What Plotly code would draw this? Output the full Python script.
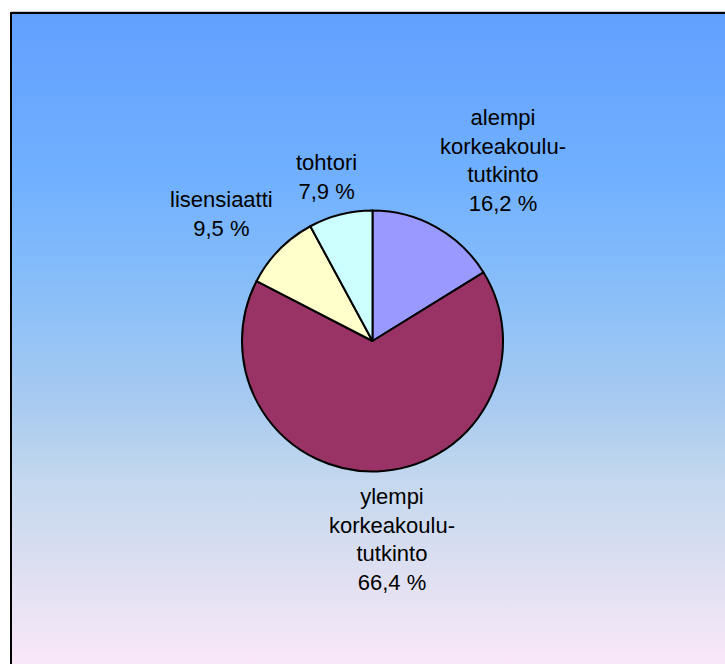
import plotly.graph_objects as go

labels = ["alempi<br>korkeakoulu-<br>tutkinto", "ylempi<br>korkeakoulu-<br>tutkinto", "lisensiaatti", "tohtori"]
values = [16.2, 66.4, 9.5, 7.9]
value_text = ["16,2 %", "66,4 %", "9,5 %", "7,9 %"]
colors = ["#9999FF", "#993366", "#FFFFCC", "#CCFFFF"]

W, H = 725, 664
# label anchor positions (page pixel space)
label_pos = [(503, 160), (392, 539), (221, 214), (326, 177)]
X0, Y0 = 11, 13

fig = go.Figure()

# gradient background panel
fig.add_trace(go.Scatter(
    x=[X0, W + 5, W + 5, X0, X0], y=[Y0, Y0, H + 5, H + 5, Y0],
    mode="lines", line=dict(width=0), fill="toself",
    fillgradient=dict(type="vertical", start=Y0, stop=H,
                      colorscale=[[0, "#62A0FF"], [0.25, "#70B0FF"], [0.45, "#8CC0F8"],
                                  [0.6, "#A8CAF0"], [0.72, "#C4D8EE"], [0.87, "#E0E0F2"],
                                  [1, "#FAE8F8"]]),
    hoverinfo="skip", showlegend=False,
))

px0, px1, py0, py1 = 242, 503, 210, 472
fig.add_trace(go.Pie(
    labels=labels, values=values, sort=False, direction="clockwise", rotation=0,
    marker=dict(colors=colors, line=dict(color="black", width=2)),
    textinfo="none", hoverinfo="skip", showlegend=False,
    domain=dict(x=[px0 / W, px1 / W], y=[1 - py1 / H, 1 - py0 / H]),
))

for lab, vt, (lx, ly) in zip(labels, value_text, label_pos):
    fig.add_annotation(x=lx, y=ly, xref="x", yref="y", text=lab + "<br>" + vt,
                       showarrow=False, align="center",
                       font=dict(family="Liberation Sans, Arial", size=22, color="black"))

# border (top and left)
fig.add_shape(type="line", x0=X0, y0=Y0 - 1.5, x1=W + 5, y1=Y0 - 1.5, xref="x", yref="y",
              line=dict(color="#C8C8C8", width=1))
fig.add_shape(type="path", path=f"M {X0},{H + 5} L {X0},{Y0} L {W + 5},{Y0}", xref="x", yref="y",
              line=dict(color="black", width=2))

fig.update_layout(
    width=W, height=H, margin=dict(l=0, r=0, t=0, b=0),
    paper_bgcolor="white", plot_bgcolor="rgba(0,0,0,0)",
    xaxis=dict(range=[0, W], visible=False, fixedrange=True, domain=[0, 1]),
    yaxis=dict(range=[H, 0], visible=False, fixedrange=True, domain=[0, 1]),
    hovermode=False,
)

fig.write_html("out.html", config={"displayModeBar": False, "staticPlot": True},
               post_script="document.body.style.margin='0';document.body.style.overflow='hidden';")
